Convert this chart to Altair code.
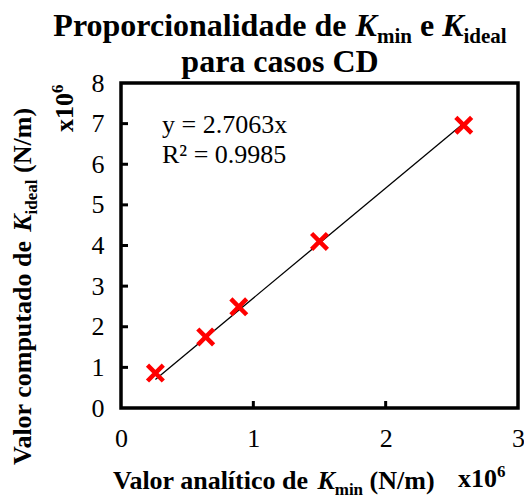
import altair as alt
import pandas as pd

# ---------------- data ----------------
kmin = [0.26, 0.64, 0.89, 1.50, 2.59]        # x10^6 N/m
kideal = [0.86, 1.75, 2.49, 4.10, 6.96]      # x10^6 N/m
slope = 2.7063
eq_lines = ["y = 2.7063x", "R² = 0.9985"]
x_ticks = [0, 1, 2, 3]
y_ticks = [0, 1, 2, 3, 4, 5, 6, 7, 8]
x_inner_ticks = [1, 2]
y_inner_ticks = [1, 2, 3, 4, 5, 6, 7]

SERIF = "'Liberation Serif', 'Times New Roman', serif"
W, H = 397, 325
LEFT, TOP = 121, 83

pts = pd.DataFrame({"kmin": kmin, "kideal": kideal})
xs = [min(kmin), max(kmin)]
trend = pd.DataFrame({"kmin": xs, "kideal": [slope * v for v in xs]})

xsc = alt.Scale(domain=[0, 3], nice=False, zero=False)
ysc = alt.Scale(domain=[0, 8], nice=False, zero=False)

# Times (Liberation Serif) bold advance widths, per em
BOLD = {' ': .25, '(': .333, ')': .333, '/': .278, '0': .5, '1': .5, '6': .5,
        'C': .722, 'D': .722, 'K': .778, 'N': .722, 'P': .611, 'V': .722,
        'a': .5, 'c': .444, 'd': .556, 'e': .444, 'i': .278, 'í': .278,
        'l': .278, 'm': .833, 'n': .556, 'o': .5, 'p': .556, 'r': .444,
        's': .389, 't': .333, 'u': .556, 'x': .5}
BOLDIT = {'K': .667}


def adv(text, style, size):
    tab = BOLDIT if style == "italic" else BOLD
    return sum(tab.get(c, BOLD.get(c, .5)) for c in text) * size


def total_width(segs):
    return sum(adv(t, st, sz) for t, sz, st, dy in segs)


def seg_layers(segs, x0, y0, rotate=False):
    layers = []
    pos = 0.0
    for text, size, style, dy in segs:
        lead = len(text) - len(text.lstrip(' '))
        pos += adv(' ' * lead, "normal", size)
        core = text.strip(' ')
        if rotate:
            x, y, ang = x0 + dy, y0 - pos, 270
        else:
            x, y, ang = x0 + pos, y0 + dy, 0
        layers.append(
            alt.Chart(pd.DataFrame({"t": [core]})).mark_text(
                font=SERIF, fontSize=size, fontWeight="bold", fontStyle=style,
                align="left", baseline="alphabetic", angle=ang, color="black"
            ).encode(x=alt.value(x), y=alt.value(y), text="t:N")
        )
        pos += adv(text.lstrip(' '), style, size)
    return layers


def P(px, py):
    return px - LEFT, py - TOP


# ---------------- marks ----------------
points = alt.Chart(pts).mark_point(
    shape="M-1,-1L1,1M-1,1L1,-1", filled=False, size=250, strokeWidth=4.5,
    color="#FF0000", opacity=1
).encode(
    x=alt.X("kmin:Q", scale=xsc, axis=alt.Axis(
        values=x_ticks, format="d", title=None, grid=False, domain=False,
        ticks=False, tickSize=0, labelFont=SERIF, labelFontSize=26,
        labelColor="black", labelPadding=17, labelFlush=False)),
    y=alt.Y("kideal:Q", scale=ysc, axis=alt.Axis(
        values=y_ticks, format="d", title=None, grid=False, domain=False,
        ticks=False, tickSize=0, labelFont=SERIF, labelFontSize=26,
        labelColor="black", labelPadding=17, labelFlush=False)),
)

line = alt.Chart(trend).mark_line(color="black", strokeWidth=1.3).encode(
    x=alt.X("kmin:Q", scale=xsc), y=alt.Y("kideal:Q", scale=ysc))

yt = alt.Chart(pd.DataFrame({"v": y_inner_ticks})).mark_rule(
    color="black", strokeWidth=3).encode(
    y=alt.Y("v:Q", scale=ysc), x=alt.value(0), x2=alt.value(7))
xt = alt.Chart(pd.DataFrame({"v": x_inner_ticks})).mark_rule(
    color="black", strokeWidth=3).encode(
    x=alt.X("v:Q", scale=xsc), y=alt.value(H), y2=alt.value(H - 7))

eq_layers = []
for i, s in enumerate(eq_lines):
    ex, ey = P(162, 133 + 30 * i)
    eq_layers.append(
        alt.Chart(pd.DataFrame({"t": [s]})).mark_text(
            font=SERIF, fontSize=26, align="left", baseline="alphabetic",
            color="black").encode(x=alt.value(ex), y=alt.value(ey), text="t:N"))

# title
t1 = [("Proporcionalidade de ", 32, "normal", 0), ("K", 32, "italic", 0),
      ("min", 21, "normal", 7), (" e ", 32, "normal", 0), ("K", 32, "italic", 0),
      ("ideal", 21, "normal", 7)]
t2 = [("para casos CD", 32, "normal", 0)]
cx = 280
x0, y0 = P(cx - total_width(t1) / 2, 36)
title_layers = seg_layers(t1, x0, y0)
x0, y0 = P(cx - total_width(t2) / 2, 72)
title_layers += seg_layers(t2, x0, y0)

# x axis title
xa = [("Valor analítico de ", 26, "normal", 0), ("K", 26, "italic", 0),
      ("min", 17, "normal", 6), (" (N/m)", 26, "normal", 0)]
x0, y0 = P(113, 489)
xt_layers = seg_layers(xa, x0, y0)
x0, y0 = P(458, 487)
xt_layers += seg_layers([("x10", 26, "normal", 0), ("6", 17, "normal", -10)], x0, y0)

# y axis title (rotated)
ya = [("Valor computado de ", 26, "normal", 0), ("K", 26, "italic", 0),
      ("ideal", 17, "normal", 6), (" (N/m)", 26, "normal", 0)]
x0, y0 = P(31, 465)
yt_layers = seg_layers(ya, x0, y0, rotate=True)
x0, y0 = P(73, 132)
yt_layers += seg_layers([("x10", 26, "normal", 0), ("6", 17, "normal", -10)], x0, y0, rotate=True)

chart = alt.layer(
    line, points, yt, xt, *eq_layers, *title_layers, *xt_layers, *yt_layers
).properties(
    width=W, height=H,
    autosize=alt.AutoSizeParams(type="none"),
    padding={"left": LEFT, "top": TOP, "right": 524 - LEFT - W, "bottom": 500 - TOP - H},
    background="white",
).configure_view(stroke="black", strokeWidth=3.5)

chart.save("out.html", embed_options={"renderer": "svg", "actions": False})
